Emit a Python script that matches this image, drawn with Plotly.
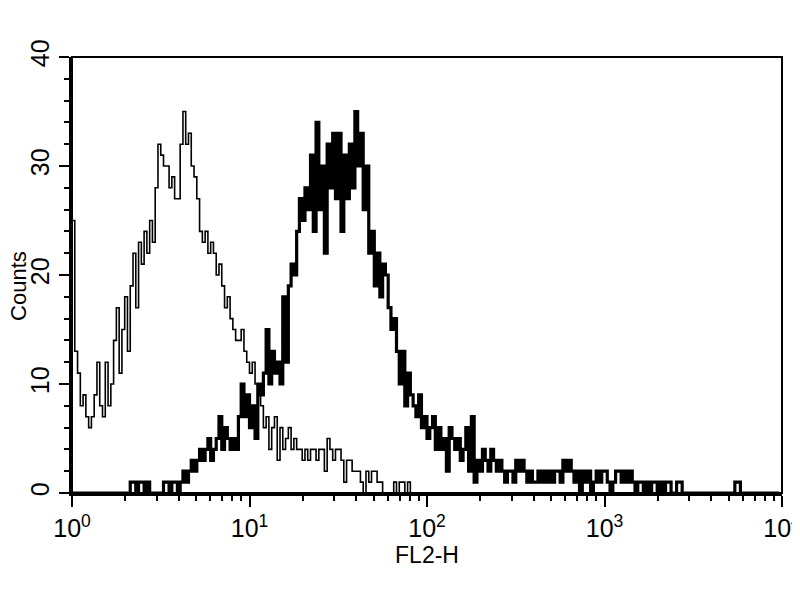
import plotly.graph_objects as go

# Histogram channel settings (256 channels spread over 4 log decades)
N_CHANNELS = 256
DECADES = 4

# Control (thin line) counts per channel, starting at channel 0
thin_counts = [
    25, 13, 11, 8, 9, 7, 6, 7, 9, 12,
    8, 7, 12, 8, 10, 14, 17, 11, 15, 18,
    13, 19, 22, 17, 23, 21, 24, 22, 25, 23,
    28, 32, 31, 30, 30, 28, 29, 27, 27, 32,
    35, 32, 33, 30, 29, 27, 24, 23, 24, 22,
    23, 22, 20, 21, 19, 17, 18, 16, 15, 14,
    14, 15, 13, 12, 11, 12, 10, 9, 8, 6,
    7, 4, 6, 7, 3, 6, 4, 5, 6, 4,
    5, 4, 4, 3, 4, 3, 4, 4, 3, 4,
    4, 2, 5, 4, 3, 4, 4, 3, 1, 3,
    3, 2, 2, 2, 1, 0, 2, 1, 2, 2,
    1, 1, 0, 0, 0, 0, 1, 0, 1, 1,
    0, 1, 0,
]

# Stained sample (thick line) counts per channel, starting at channel 0
thick_counts = [
    0, 0, 0, 0, 0, 0, 0, 0, 0, 0,
    0, 0, 0, 0, 0, 0, 0, 0, 0, 0,
    0, 1, 1, 0, 1, 1, 0, 1, 0, 0,
    0, 0, 0, 1, 1, 0, 1, 1, 0, 1,
    2, 1, 2, 3, 2, 3, 4, 3, 4, 5,
    3, 4, 5, 7, 4, 6, 5, 4, 5, 4,
    7, 10, 7, 9, 6, 8, 5, 10, 9, 11,
    15, 10, 13, 11, 12, 10, 18, 12, 19, 21,
    20, 24, 27, 25, 28, 26, 31, 24, 34, 26,
    30, 22, 32, 28, 33, 27, 33, 24, 31, 27,
    32, 28, 35, 30, 33, 26, 30, 22, 24, 19,
    22, 18, 21, 20, 17, 15, 16, 13, 10, 13,
    8, 11, 9, 8, 7, 9, 6, 7, 5, 6,
    7, 4, 6, 4, 5, 2, 6, 5, 4, 5,
    3, 4, 6, 2, 7, 1, 3, 2, 4, 3,
    2, 4, 3, 2, 3, 2, 1, 2, 2, 1,
    3, 2, 3, 2, 1, 2, 1, 1, 2, 1,
    2, 1, 2, 1, 2, 2, 1, 3, 2, 3,
    2, 1, 2, 0, 2, 1, 2, 0, 1, 2,
    1, 2, 2, 1, 0, 1, 2, 2, 1, 2,
    1, 2, 1, 0, 1, 1, 0, 1, 0, 1,
    1, 0, 1, 0, 1, 1, 0, 0, 1, 1,
    0, 0, 0, 0, 0, 0, 0, 0, 0, 0,
    0, 0, 0, 0, 0, 0, 0, 0, 0, 1,
    1, 0, 0, 0, 0, 0, 0, 0, 0, 0,
    0, 0, 0, 0, 0, 0,
]

x_tick_vals = [1, 10, 100, 1000, 10000]
x_tick_text = ["10<sup>0</sup>", "10<sup>1</sup>", "10<sup>2</sup>", "10<sup>3</sup>", "10<sup>4</sup>"]
x_minor_vals = [m * 10 ** d for d in range(4) for m in range(2, 10)]
y_tick_vals = [0, 10, 20, 30, 40]


def channel_to_value(i):
    return 10 ** (DECADES * i / N_CHANNELS)


x_thin = [channel_to_value(i) for i in range(len(thin_counts))]
x_thick = [channel_to_value(i) for i in range(len(thick_counts))]

fig = go.Figure()
fig.add_trace(go.Scatter(
    x=x_thin, y=thin_counts, mode="lines",
    line=dict(shape="hv", color="black", width=1.6),
    showlegend=False, hoverinfo="skip",
))
fig.add_trace(go.Scatter(
    x=x_thick, y=thick_counts, mode="lines",
    line=dict(shape="hv", color="black", width=3.2),
    showlegend=False, hoverinfo="skip",
))

FONT = "Liberation Sans, Arial, sans-serif"

fig.update_layout(
    width=800, height=600,
    margin=dict(l=64, r=26, t=49, b=115, pad=0),
    paper_bgcolor="white", plot_bgcolor="white",
    font=dict(family=FONT, color="black", size=22),
    xaxis=dict(
        type="log", range=[0, DECADES], automargin=False,
        tickmode="array", tickvals=x_tick_vals, ticktext=x_tick_text,
        ticklabeloverflow="allow",
        ticks="outside", ticklen=11, tickwidth=2, tickcolor="black",
        minor=dict(tickmode="array", tickvals=x_minor_vals, ticks="outside",
                   ticklen=5, tickwidth=2, tickcolor="black", showgrid=False),
        showline=True, linewidth=3, linecolor="black",
        showgrid=False, zeroline=False,
        tickfont=dict(size=25, family=FONT),
        title=dict(text="FL2-H", standoff=0, font=dict(size=23, family=FONT)),
    ),
    yaxis=dict(
        range=[0, 40], automargin=False,
        tickmode="array", tickvals=y_tick_vals,
        ticks="outside", ticklen=10, tickwidth=2, tickcolor="black",
        minor=dict(dtick=2, tick0=0, ticks="outside", ticklen=5, tickwidth=2,
                   tickcolor="black", showgrid=False),
        tickangle=-90,
        showline=True, linewidth=3, linecolor="black",
        showgrid=False, zeroline=False,
        tickfont=dict(size=25, family=FONT),
    ),
    annotations=[dict(
        text="Counts", textangle=-90, showarrow=False,
        xref="paper", yref="paper", x=-53 / 710, y=0.475,
        xanchor="center", yanchor="middle",
        font=dict(size=22, family=FONT, color="black"),
    )],
    shapes=[dict(type="rect", xref="paper", yref="paper", x0=0, x1=1, y0=0, y1=1,
                 line=dict(color="black", width=2), fillcolor="rgba(0,0,0,0)")],
)

fig.write_html("out.html")
